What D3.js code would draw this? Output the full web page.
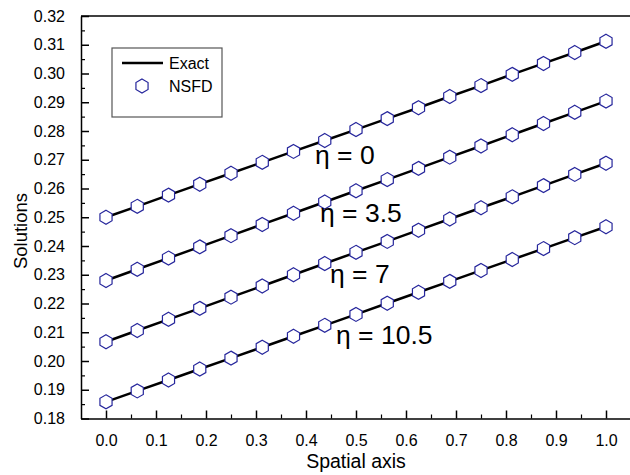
<!DOCTYPE html>
<html><head><meta charset="utf-8">
<script src="https://cdn.jsdelivr.net/npm/d3@7"></script>
<style>body{margin:0;background:#fff}text{font-family:"Liberation Sans",Arial,sans-serif}</style>
</head><body>
<svg id="c" width="630" height="475"></svg>
<script>
// ---- data ----
const xValues = [0,0.0625,0.125,0.1875,0.25,0.3125,0.375,0.4375,0.5,0.5625,0.625,0.6875,0.75,0.8125,0.875,0.9375,1];
const eta0   = [0.2500,0.2538,0.2577,0.2615,0.2653,0.2691,0.2729,0.2767,0.2805,0.2843,0.2881,0.2920,0.2958,0.2997,0.3035,0.3073,0.3112];
const eta35  = [0.2280,0.2319,0.2358,0.2397,0.2436,0.2475,0.2514,0.2553,0.2592,0.2631,0.2670,0.2709,0.2748,0.2787,0.2826,0.2865,0.2904];
const eta7   = [0.2067,0.2106,0.2145,0.2183,0.2222,0.2261,0.2300,0.2339,0.2378,0.2416,0.2455,0.2494,0.2533,0.2571,0.2610,0.2649,0.2688];
const eta105 = [0.1858,0.1896,0.1934,0.1972,0.2010,0.2048,0.2086,0.2124,0.2162,0.2201,0.2239,0.2277,0.2315,0.2353,0.2391,0.2429,0.2467];
const seriesLabels = ["η = 0","η = 3.5","η = 7","η = 10.5"];
const xTickLabels = ["0.0","0.1","0.2","0.3","0.4","0.5","0.6","0.7","0.8","0.9","1.0"];
const yTickLabels = ["0.18","0.19","0.20","0.21","0.22","0.23","0.24","0.25","0.26","0.27","0.28","0.29","0.30","0.31","0.32"];
const legendLabels = ["Exact","NSFD"];
const xTitle = "Spatial axis", yTitle = "Solutions";

// ---- layout ----
const allSeries = [eta0, eta35, eta7, eta105];
const labelPos = [[315,164],[320,222],[330,283],[336,344]];
const svg = d3.select("#c");
const x = d3.scaleLinear().domain([-0.05,1.05]).range([81,631]);
const y = d3.scaleLinear().domain([0.18,0.32]).range([418.5,16]);
const markerColor = "#26269c";

// frame: top line
svg.append("line").attr("x1",81).attr("x2",631).attr("y1",16).attr("y2",16)
  .attr("stroke","#000").attr("stroke-width",1.5);

// x axis
const xMajor = xTickLabels.map(Number);
const xAx = svg.append("g").attr("transform","translate(0,418.5)")
  .call(d3.axisBottom(x).tickValues(xMajor).tickSizeInner(-8).tickSizeOuter(0).tickPadding(16)
    .tickFormat((d,i)=>xTickLabels[i]));
xAx.select(".domain").attr("stroke-width",1.5);
xAx.selectAll(".tick line").attr("stroke-width",1.5);
xAx.selectAll("text").attr("font-size",16).attr("fill","#000");
const xMinor = xMajor.slice(0,-1).map(v=>v+0.05);
svg.append("g").attr("transform","translate(0,418.5)")
  .call(d3.axisBottom(x).tickValues(xMinor).tickSizeInner(-4).tickSizeOuter(0).tickFormat(""))
  .call(g=>g.select(".domain").remove())
  .selectAll(".tick line").attr("stroke-width",1.2);

// y axis
const yMajor = yTickLabels.map(Number);
const yAx = svg.append("g").attr("transform","translate(81,0)")
  .call(d3.axisLeft(y).tickValues(yMajor).tickSizeInner(-8).tickSizeOuter(0).tickPadding(16)
    .tickFormat((d,i)=>yTickLabels[i]));
yAx.select(".domain").attr("stroke-width",1.5);
yAx.selectAll(".tick line").attr("stroke-width",1.5);
yAx.selectAll("text").attr("font-size",16).attr("fill","#000");
const yMinor = yMajor.slice(0,-1).map(v=>v+0.005);
svg.append("g").attr("transform","translate(81,0)")
  .call(d3.axisLeft(y).tickValues(yMinor).tickSizeInner(-4).tickSizeOuter(0).tickFormat(""))
  .call(g=>g.select(".domain").remove())
  .selectAll(".tick line").attr("stroke-width",1.2);

// titles
svg.append("text").attr("x",356).attr("y",468).attr("text-anchor","middle")
  .attr("font-size",19.5).text(xTitle);
svg.append("text").attr("transform","translate(27,231) rotate(-90)").attr("text-anchor","middle")
  .attr("font-size",18.5).text(yTitle);

// hexagon path
const R = 7;
const hexPts = d3.range(6).map(i=>{const a=(-90+60*i)*Math.PI/180;return [R*Math.cos(a),R*Math.sin(a)];});
const hexPath = "M"+hexPts.map(p=>p.join(",")).join("L")+"Z";

const line = d3.line().x((d,i)=>x(xValues[i])).y(d=>y(d));
allSeries.forEach(s=>{
  svg.append("path").attr("d",line(s)).attr("fill","none").attr("stroke","#000").attr("stroke-width",2.5);
});
allSeries.forEach(s=>{
  svg.append("g").selectAll("path").data(s).join("path")
    .attr("transform",(d,i)=>`translate(${x(xValues[i])},${y(d)})`)
    .attr("d",hexPath).attr("fill","#fff").attr("stroke",markerColor).attr("stroke-width",1.2);
});

// series labels
seriesLabels.forEach((t,i)=>{
  svg.append("text").attr("x",labelPos[i][0]).attr("y",labelPos[i][1]).attr("font-size",26.5).text(t);
});

// legend
svg.append("rect").attr("x",112).attr("y",48).attr("width",110).attr("height",69)
  .attr("fill","#fff").attr("stroke","#555").attr("stroke-width",1.2);
svg.append("line").attr("x1",122).attr("x2",163).attr("y1",63).attr("y2",63)
  .attr("stroke","#000").attr("stroke-width",2.5);
svg.append("path").attr("transform","translate(142,86)").attr("d",hexPath)
  .attr("fill","#fff").attr("stroke",markerColor).attr("stroke-width",1.2);
svg.append("text").attr("x",169).attr("y",69).attr("font-size",16).text(legendLabels[0]);
svg.append("text").attr("x",169).attr("y",92).attr("font-size",16).text(legendLabels[1]);
</script>
</body></html>
